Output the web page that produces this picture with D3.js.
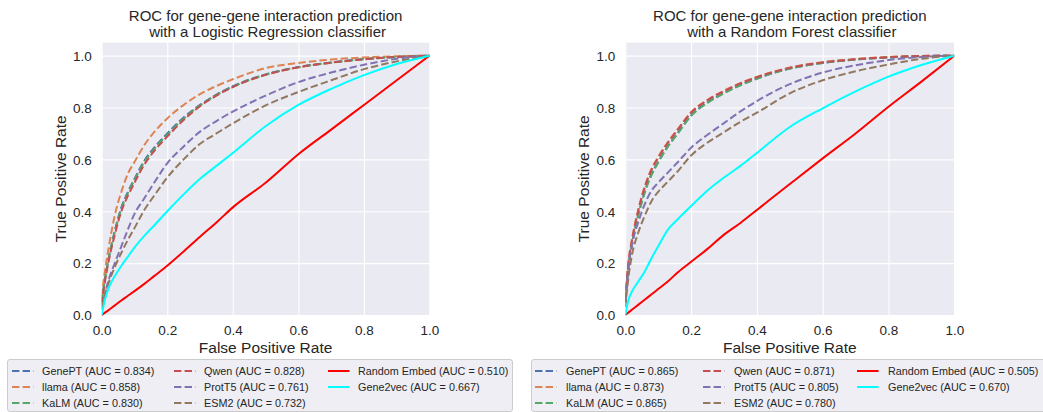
<!DOCTYPE html>
<html>
<head>
<meta charset="utf-8">
<script src="https://cdn.jsdelivr.net/npm/d3@7"></script>
<style>
  html, body { margin: 0; padding: 0; background: #ffffff; }
  svg { display: block; font-family: "Liberation Sans", Arial, "DejaVu Sans", sans-serif; }
</style>
</head>
<body>
<svg id="chart" width="1043" height="412"></svg>
<script>
// ---------------- DATA ----------------
const fpr = [0, 0.01, 0.02, 0.04, 0.06, 0.08, 0.1, 0.13, 0.16, 0.2, 0.25, 0.3, 0.35, 0.4, 0.5, 0.6, 0.7, 0.8, 0.9, 1.0];

const seriesNames = ["GenePT", "llama", "KaLM", "Qwen", "ProtT5", "ESM2", "Random Embed", "Gene2vec"];

// Logistic Regression
const lrAUC = ["0.834", "0.858", "0.830", "0.828", "0.761", "0.732", "0.510", "0.667"];
const lr_genept   = [0.05,0.14,0.21,0.325,0.415,0.475,0.525,0.595,0.645,0.70,0.762,0.81,0.85,0.882,0.928,0.956,0.974,0.987,0.995,1];
const lr_llama    = [0.07,0.17,0.25,0.385,0.475,0.545,0.59,0.655,0.705,0.758,0.81,0.852,0.883,0.909,0.952,0.972,0.985,0.993,0.998,1];
const lr_kalm     = [0.05,0.14,0.21,0.32,0.41,0.47,0.52,0.59,0.64,0.695,0.757,0.808,0.848,0.88,0.927,0.955,0.973,0.986,0.995,1];
const lr_qwen     = [0.04,0.13,0.20,0.31,0.40,0.46,0.51,0.58,0.632,0.688,0.752,0.805,0.846,0.879,0.926,0.955,0.973,0.986,0.995,1];
const lr_prott5   = [0.02,0.08,0.13,0.20,0.265,0.33,0.39,0.45,0.51,0.585,0.65,0.707,0.748,0.784,0.846,0.898,0.935,0.965,0.988,1];
const lr_esm2     = [0.03,0.08,0.12,0.185,0.24,0.29,0.335,0.405,0.46,0.53,0.60,0.66,0.70,0.739,0.808,0.86,0.905,0.948,0.978,1];
const lr_random   = [0,0.009,0.018,0.037,0.056,0.074,0.092,0.12,0.15,0.19,0.245,0.302,0.357,0.415,0.51,0.62,0.715,0.81,0.905,1];
const lr_gene2vec = [0,0.06,0.10,0.15,0.19,0.225,0.26,0.305,0.345,0.40,0.465,0.525,0.575,0.625,0.728,0.81,0.872,0.925,0.968,1];

// Random Forest
const rfAUC = ["0.865", "0.873", "0.865", "0.871", "0.805", "0.780", "0.505", "0.670"];
const rf_genept   = [0.05,0.19,0.27,0.39,0.48,0.545,0.59,0.652,0.703,0.77,0.82,0.856,0.887,0.912,0.95,0.972,0.985,0.993,0.998,1];
const rf_llama    = [0.06,0.21,0.29,0.41,0.50,0.565,0.61,0.668,0.718,0.782,0.83,0.865,0.894,0.918,0.954,0.975,0.987,0.995,0.999,1];
const rf_kalm     = [0.05,0.19,0.27,0.385,0.475,0.54,0.588,0.65,0.70,0.768,0.818,0.855,0.886,0.911,0.95,0.972,0.985,0.993,0.998,1];
const rf_qwen     = [0.06,0.205,0.285,0.405,0.495,0.56,0.605,0.665,0.715,0.78,0.828,0.863,0.893,0.917,0.953,0.974,0.986,0.994,0.999,1];
const rf_prott5   = [0.05,0.19,0.27,0.36,0.43,0.48,0.51,0.55,0.59,0.645,0.695,0.74,0.785,0.825,0.89,0.935,0.963,0.983,0.995,1];
const rf_esm2     = [0.03,0.15,0.23,0.32,0.385,0.44,0.475,0.515,0.555,0.615,0.665,0.705,0.745,0.78,0.855,0.905,0.94,0.966,0.988,1];
const rf_random   = [0,0.01,0.02,0.04,0.06,0.08,0.1,0.13,0.165,0.205,0.255,0.31,0.355,0.405,0.505,0.604,0.7,0.803,0.9,1];
const rf_gene2vec = [0,0.06,0.09,0.13,0.17,0.22,0.265,0.33,0.37,0.42,0.48,0.53,0.575,0.625,0.725,0.797,0.862,0.919,0.964,1];

const tickValues = [0, 0.2, 0.4, 0.6, 0.8, 1.0];
const tickLabels = ["0.0", "0.2", "0.4", "0.6", "0.8", "1.0"];

// ---------------- STYLE ----------------
const colors = ["#4C72B0", "#DD8452", "#55A868", "#C44E52", "#8172B3", "#937860", "#ff0000", "#00ffff"];
const dashed = [true, true, true, true, true, true, false, false];
const textColor = "#262626";

const panels = [
  {
    title: ["ROC for gene-gene interaction prediction", "with a Logistic Regression classifier"],
    series: [lr_genept, lr_llama, lr_kalm, lr_qwen, lr_prott5, lr_esm2, lr_random, lr_gene2vec],
    auc: lrAUC,
    x0: 101.7, x1: 429.5,
    legend: { x: 7, w: 505, cols: [12, 174, 328], textOff: 30 }
  },
  {
    title: ["ROC for gene-gene interaction prediction", "with a Random Forest classifier"],
    series: [rf_genept, rf_llama, rf_kalm, rf_qwen, rf_prott5, rf_esm2, rf_random, rf_gene2vec],
    auc: rfAUC,
    x0: 625.3, x1: 954.3,
    legend: { x: 531, w: 520, cols: [535, 703, 857], textOff: 31 }
  }
];

const svg = d3.select("#chart");
const yTop = 42.7, yBottom = 315;

panels.forEach((p, pi) => {
  const x = d3.scaleLinear().domain([0, 1]).range([p.x0, p.x1]);
  const y = d3.scaleLinear().domain([0, 1.05]).range([yBottom, yTop]);
  const g = svg.append("g");

  // background
  g.append("rect")
    .attr("x", p.x0).attr("y", yTop)
    .attr("width", p.x1 - p.x0).attr("height", yBottom - yTop)
    .attr("fill", "#EAEAF2");

  // grid + tick labels
  const xAxis = d3.axisBottom(x).tickValues(tickValues).tickSize(-(yBottom - yTop)).tickFormat((d, i) => tickLabels[i]);
  const yAxis = d3.axisLeft(y).tickValues(tickValues).tickSize(-(p.x1 - p.x0)).tickFormat((d, i) => tickLabels[i]);

  const gx = g.append("g").attr("transform", `translate(0,${yBottom})`).call(xAxis);
  const gy = g.append("g").attr("transform", `translate(${p.x0},0)`).call(yAxis);
  [gx, gy].forEach(a => {
    a.select(".domain").remove();
    a.selectAll(".tick line").attr("stroke", "#ffffff").attr("stroke-width", 1.1);
    a.selectAll(".tick text").attr("fill", textColor).attr("font-size", "13.5px")
      .attr("font-family", '"Liberation Sans", Arial, sans-serif');
  });
  gx.selectAll(".tick text").attr("y", 0).attr("dy", null).attr("transform", "translate(0,20)");
  gy.selectAll(".tick text").attr("x", -10).attr("dy", "0.35em");

  // clip
  const clipId = "clip" + pi;
  svg.append("clipPath").attr("id", clipId).append("rect")
    .attr("x", p.x0).attr("y", yTop - 2).attr("width", p.x1 - p.x0).attr("height", yBottom - yTop + 4);

  const line = d3.line()
    .x((d, i) => x(fpr[i]))
    .y(d => y(d))
    .curve(d3.curveMonotoneX);

  const lines = g.append("g").attr("clip-path", `url(#${clipId})`);
  p.series.forEach((s, si) => {
    lines.append("path")
      .datum(s)
      .attr("d", line)
      .attr("fill", "none")
      .attr("stroke", colors[si])
      .attr("stroke-width", 2)
      .attr("stroke-linejoin", "round")
      .attr("stroke-dasharray", dashed[si] ? "7.4,3.2" : null);
  });

  const cx = (p.x0 + p.x1) / 2;
  // titles
  g.append("text").attr("x", cx).attr("y", 21).attr("text-anchor", "middle")
    .attr("fill", textColor).attr("font-size", "15px").text(p.title[0]);
  g.append("text").attr("x", cx + 2).attr("y", 36.5).attr("text-anchor", "middle")
    .attr("fill", textColor).attr("font-size", "15px").text(p.title[1]);

  // axis labels
  g.append("text").attr("x", cx).attr("y", 353).attr("text-anchor", "middle")
    .attr("fill", textColor).attr("font-size", "15.5px").text("False Positive Rate");
  g.append("text").attr("transform", `translate(${p.x0 - 36},${(yTop + yBottom) / 2}) rotate(-90)`)
    .attr("text-anchor", "middle")
    .attr("fill", textColor).attr("font-size", "15.5px").text("True Positive Rate");

  // legend
  const L = p.legend;
  const lg = svg.append("g");
  lg.append("rect")
    .attr("x", L.x + 0.5).attr("y", 359.5)
    .attr("width", L.w).attr("height", 52)
    .attr("rx", 2.5)
    .attr("fill", "#EEEEF4")
    .attr("stroke", "#cccccc").attr("stroke-width", 1);
  const rowsY = [371, 387, 403];
  const order = [[0, 1, 2], [3, 4, 5], [6, 7]];
  order.forEach((col, ci) => {
    col.forEach((si, ri) => {
      const hx = L.cols[ci];
      const ry = rowsY[ri];
      lg.append("line")
        .attr("x1", hx).attr("x2", hx + 21.5)
        .attr("y1", ry).attr("y2", ry)
        .attr("stroke", colors[si]).attr("stroke-width", 2)
        .attr("stroke-dasharray", dashed[si] ? "7.4,3.2" : null);
      lg.append("text")
        .attr("x", hx + L.textOff).attr("y", ry).attr("dy", "0.36em")
        .attr("fill", textColor).attr("font-size", "10.8px")
        .text(`${seriesNames[si]} (AUC = ${p.auc[si]})`);
    });
  });
});
</script>
</body>
</html>
